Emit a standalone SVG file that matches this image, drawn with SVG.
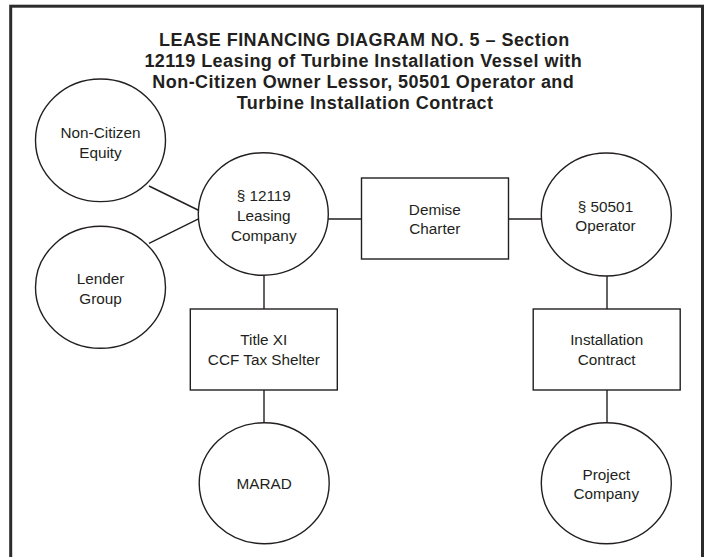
<svg xmlns="http://www.w3.org/2000/svg" width="706" height="557" viewBox="0 0 706 557">
<style>
.shape{fill:#fff;stroke:#231f20;stroke-width:1.4}
.conn line{stroke:#231f20;stroke-width:1.4}
.lbl{font-family:"Liberation Sans",Arial,sans-serif;font-size:15.3px;fill:#231f20;text-anchor:middle}
.title{font-family:"Liberation Sans",Arial,sans-serif;font-size:18px;letter-spacing:0.45px;font-weight:bold;fill:#231f20;text-anchor:middle}
</style>
<rect x="0" y="0" width="706" height="557" fill="#fff"/>
<rect x="10.7" y="6.2" width="691.8" height="620" fill="none" stroke="#2b2b2b" stroke-width="3"/>
<g id="title">
<text class="title" x="364.3" y="45.8">LEASE FINANCING DIAGRAM NO. 5 – Section</text>
<text class="title" x="363.3" y="66.8">12119 Leasing of Turbine Installation Vessel with</text>
<text class="title" x="363.3" y="87.6">Non-Citizen Owner Lessor, 50501 Operator and</text>
<text class="title" x="365" y="108.5">Turbine Installation Contract</text>
</g>
<g id="connectors" class="conn">
<line x1="149" y1="186" x2="199" y2="210.5"/>
<line x1="149" y1="243.3" x2="199.5" y2="218.3"/>
<line x1="328" y1="219" x2="361.5" y2="219"/>
<line x1="508.5" y1="219" x2="541.5" y2="219"/>
<line x1="264" y1="275" x2="264" y2="309"/>
<line x1="264" y1="390" x2="264" y2="423"/>
<line x1="607" y1="276" x2="607" y2="309"/>
<line x1="607" y1="390" x2="607" y2="423"/>
</g>
<g id="non-citizen-equity">
<ellipse class="shape" cx="100.5" cy="140.3" rx="65" ry="61.3"/>
<text class="lbl" x="100.5" y="138.3">Non-Citizen</text>
<text class="lbl" x="100.5" y="158">Equity</text>
</g>
<g id="lender-group">
<ellipse class="shape" cx="100.5" cy="287.3" rx="65" ry="61"/>
<text class="lbl" x="100.5" y="284.3">Lender</text>
<text class="lbl" x="100.5" y="304">Group</text>
</g>
<g id="leasing-company">
<ellipse class="shape" cx="263.3" cy="214" rx="65" ry="61.3"/>
<text class="lbl" x="263.8" y="200.7">§ 12119</text>
<text class="lbl" x="263.8" y="220.7">Leasing</text>
<text class="lbl" x="263.8" y="240.7">Company</text>
</g>
<g id="demise-charter">
<rect class="shape" x="361.5" y="178" width="147" height="81"/>
<text class="lbl" x="434.8" y="214.8">Demise</text>
<text class="lbl" x="434.8" y="234">Charter</text>
</g>
<g id="operator">
<ellipse class="shape" cx="606.3" cy="214.5" rx="65" ry="61.5"/>
<text class="lbl" x="605.5" y="211.5">§ 50501</text>
<text class="lbl" x="605.5" y="231">Operator</text>
</g>
<g id="title-xi">
<rect class="shape" x="190.3" y="309" width="147" height="81"/>
<text class="lbl" x="263.8" y="344.7">Title XI</text>
<text class="lbl" x="263.8" y="364.7">CCF Tax Shelter</text>
</g>
<g id="installation-contract">
<rect class="shape" x="533.2" y="309" width="147" height="81"/>
<text class="lbl" x="606.7" y="345.2">Installation</text>
<text class="lbl" x="606.7" y="364.8">Contract</text>
</g>
<g id="marad">
<ellipse class="shape" cx="264.2" cy="483.2" rx="65" ry="60.5"/>
<text class="lbl" x="264.2" y="489.3">MARAD</text>
</g>
<g id="project-company">
<ellipse class="shape" cx="606.3" cy="483.2" rx="65" ry="60.5"/>
<text class="lbl" x="606.3" y="479.7">Project</text>
<text class="lbl" x="606.3" y="499">Company</text>
</g>
</svg>
